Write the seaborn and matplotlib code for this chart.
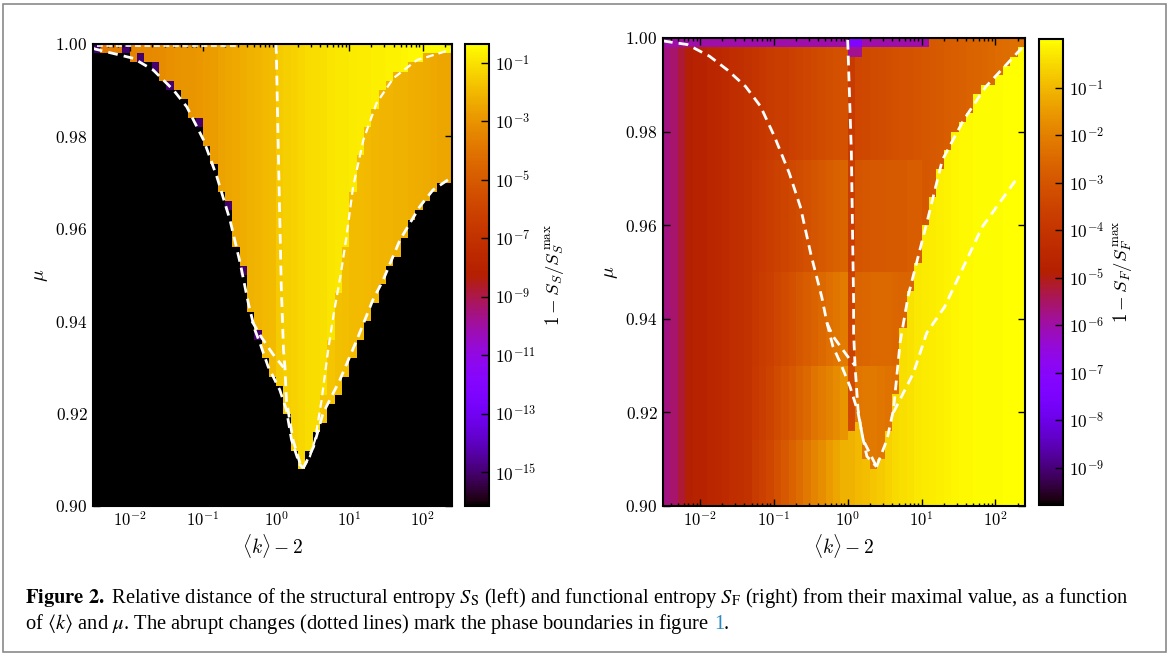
import numpy as np
import pandas as pd
import seaborn as sns
import matplotlib.pyplot as plt
from matplotlib.colors import LogNorm
from matplotlib.patches import Rectangle

plt.rcParams['mathtext.fontset'] = 'cm'
plt.rcParams['font.family'] = ['DejaVu Serif']

# ===== GRID: log10(<k>-2) columns and mu rows =====
log_k = np.round(np.arange(-2.45, 2.40, 0.1), 2)   # 49 column centres
mu = np.round(np.arange(0.901, 1.0, 0.002), 3)     # 50 row centres

# ===== LEFT PANEL (structural entropy) =====
# mu below which the cell is empty (black)
left_floor_mu = [0.9988, 0.9985, 0.9981, 0.9977, 0.9973, 0.9969, 0.9960, 0.9950,
                 0.9940, 0.9925, 0.9908, 0.9890, 0.9870, 0.9843, 0.9811, 0.9775,
                 0.9731, 0.9682, 0.9630, 0.9566, 0.9494, 0.9420, 0.9365, 0.9320,
                 0.9284, 0.9251, 0.9200, 0.9120, 0.9084, 0.9110, 0.9150, 0.9180,
                 0.9210, 0.9245, 0.9280, 0.9315, 0.9350, 0.9390, 0.9430, 0.9470,
                 0.9510, 0.9545, 0.9580, 0.9610, 0.9635, 0.9660, 0.9680, 0.9695,
                 0.9705]
# log10(1 - S_S/S_S^max) per column
left_log_value = [-4.0, -3.9, -3.8, -3.7, -3.6, -3.5, -3.4, -3.35, -3.3, -3.2,
                  -3.1, -3.05, -3.0, -2.95, -2.9, -2.8, -2.7, -2.6, -2.5, -2.4,
                  -2.3, -2.2, -2.1, -2.0, -1.9, -1.55, -1.45, -1.35, -1.25, -1.15,
                  -1.1, -1.05, -0.95, -0.9, -0.85, -0.8, -0.78, -0.75, -0.72, -0.68,
                  -0.64, -0.6, -0.55, -0.5, -0.48, -0.46, -0.45, -0.44, -0.43]
# last 20 columns: below the inner right boundary the value drops
left_inner_mu = [0.910, 0.916, 0.925, 0.936, 0.946, 0.957, 0.968, 0.977, 0.983, 0.987,
                 0.990, 0.992, 0.9935, 0.995, 0.996, 0.9967, 0.9975, 0.998, 0.9985, 0.9988]
left_outer_log_value = [-1.55, -1.6, -1.65, -1.7, -1.8, -1.85, -1.9, -1.95, -2.0, -2.05,
                        -2.1, -2.1, -2.15, -2.2, -2.25, -2.3, -2.35, -2.4, -2.45, -2.5]
# columns whose first filled cell is dark purple
left_edge_log_k = [-2.45, -2.05, -1.85, -1.65, -1.45, -1.05, -0.65, -0.45, -0.25]
left_edge_log_value = -15.0

# ===== RIGHT PANEL (functional entropy) =====
# top band (mu >= 0.975), every column
right_log_value = [-5.7, -5.55, -5.2, -4.9, -4.75, -4.7, -4.6, -4.5, -4.4, -4.3,
                   -4.2, -4.1, -4.0, -3.9, -3.8, -3.7, -3.65, -3.6, -3.5, -3.45,
                   -3.35, -3.3, -3.2, -3.15, -3.1,
                   -3.8, -3.4, -3.35, -3.3, -3.25, -3.2, -3.15, -3.1, -3.05, -3.0,
                   -2.95, -2.9, -2.85, -2.8, -2.75, -2.7, -2.65, -2.6, -2.55, -2.5,
                   -2.45, -2.4, -2.35, -2.3]
# lower bands, columns from log_k = -1.25 to 0.95
right_band_mu = [0.975, 0.95, 0.93, 0.915]
right_band_b = [-3.95, -3.83, -3.7, -3.56, -3.46, -3.36, -3.23, -3.13, -2.99, -2.9,
                -2.78, -2.69, -2.6, -3.7, -3.0, -2.95, -2.9, -2.9, -2.85, -2.85,
                -2.85, -2.8, -2.8]
right_band_c = [-3.9, -3.75, -3.6, -3.43, -3.28, -3.13, -2.95, -2.8, -2.63, -2.5,
                -2.35, -2.23, -2.1, -3.5, -2.6, -2.55, -2.5, -2.5, -2.5, -2.55,
                -2.6, -2.6, -2.6]
right_band_d = [-3.85, -3.68, -3.5, -3.29, -3.09, -2.89, -2.68, -2.48, -2.26, -2.1,
                -1.93, -1.76, -1.6, -3.3, -2.2, -2.15, -2.15, -2.2, -2.3, -2.35,
                -2.4, -2.4, -2.4]
right_band_e = [-3.8, -3.6, -3.4, -3.15, -2.9, -2.65, -2.4, -2.15, -1.9, -1.7,
                -1.5, -1.3, -1.1]
# columns from log_k = 0.05: below the V / inner right boundary
right_split_mu = [0.916, 0.919, 0.911, 0.9085, 0.911, 0.9155, 0.924, 0.938, 0.946, 0.953,
                  0.9595, 0.966, 0.972, 0.9765, 0.980, 0.9825, 0.985, 0.9875, 0.9895, 0.991,
                  0.993, 0.995, 0.997, 0.998]
right_under_v_log_value = [-1.1, -1.0, -0.9, -0.8, -0.7, -0.6, -0.5, -0.42, -0.36, -0.3,
                           -0.26, -0.22, -0.18, -0.14, -0.1, -0.08, -0.06, -0.04, -0.03,
                           -0.02, -0.01, 0.0, 0.0, 0.0]
right_top_log_value = -6.0          # top row (mu = 1)
right_top_max_log_k = 1.05
right_stripe_log_k = [0.05, 0.15]
right_stripe_top_log_value = [-7.3, -5.8]   # two top rows above the stripe

# ===== PHASE BOUNDARIES (log10(<k>-2), mu) =====
l_outer_left_x = [-2.5, -2.47, -1.95, -1.68, -1.40, -1.22, -0.99, -0.81, -0.63, -0.49,
                  -0.38, -0.29, -0.22, -0.11, 0.05, 0.14, 0.21, 0.32, 0.37]
l_outer_left_mu = [0.9991, 0.9989, 0.9969, 0.9944, 0.9900, 0.9864, 0.9792, 0.9713, 0.9619,
                   0.9525, 0.9439, 0.9381, 0.9352, 0.9302, 0.9251, 0.9208, 0.9143, 0.9090, 0.9082]
l_branch_x = [-0.33, -0.20, -0.05, 0.10]
l_branch_mu = [0.9400, 0.9365, 0.9330, 0.9300]
l_vert_x = [0.0, 0.03, 0.07, 0.10, 0.12, 0.14, 0.23, 0.33, 0.37]
l_vert_mu = [1.0, 0.9763, 0.9475, 0.9338, 0.9300, 0.9229, 0.9143, 0.9090, 0.9082]
l_inner_right_x = [0.37, 0.46, 0.53, 0.62, 0.71, 0.79, 0.88, 0.96, 1.05, 1.19, 1.37, 1.60,
                   1.92, 2.37, 2.40]
l_inner_right_mu = [0.9082, 0.9107, 0.9143, 0.9229, 0.9338, 0.9420, 0.9500, 0.9583, 0.9691,
                    0.9792, 0.9872, 0.9926, 0.9965, 0.9987, 0.9988]
l_outer_right_x = [0.37, 0.51, 0.64, 0.87, 1.10, 1.32, 1.46, 1.69, 1.96, 2.14, 2.40]
l_outer_right_mu = [0.9082, 0.9128, 0.9201, 0.9273, 0.9359, 0.9446, 0.9489, 0.9576, 0.9648,
                    0.9684, 0.9712]
l_top_x = [-2.45, -0.55]
l_top_mu = [0.9995, 0.9995]

r_outer_left_x = [-2.5, -2.47, -2.17, -1.87, -1.63, -1.38, -1.18, -0.99, -0.79, -0.64,
                  -0.50, -0.35, -0.28, -0.20, -0.10, 0.03, 0.14, 0.21, 0.39]
r_outer_left_mu = [0.9994, 0.9993, 0.9986, 0.9961, 0.9932, 0.9896, 0.9854, 0.9789, 0.9711,
                   0.9639, 0.9539, 0.9446, 0.9391, 0.9341, 0.9306, 0.9256, 0.9200, 0.9141, 0.9084]
r_branch_x = [-0.28, -0.20, 0.03, 0.10]
r_branch_mu = [0.9391, 0.9363, 0.9313, 0.9300]
r_vert_x = [0.0, 0.05, 0.07, 0.08, 0.08, 0.10, 0.14, 0.19, 0.26, 0.39]
r_vert_mu = [0.9996, 0.9754, 0.9540, 0.9440, 0.9370, 0.9298, 0.9206, 0.9156, 0.9106, 0.9084]
r_inner_right_x = [0.39, 0.53, 0.62, 0.71, 0.82, 1.08, 1.28, 1.57, 1.87, 2.40]
r_inner_right_mu = [0.9084, 0.9141, 0.9206, 0.9350, 0.9450, 0.9611, 0.9739, 0.9825, 0.9896, 0.9986]
r_outer_right_x = [0.62, 0.89, 1.07, 1.31, 1.82, 2.31]
r_outer_right_mu = [0.9200, 0.9284, 0.9370, 0.9425, 0.9596, 0.9704]

EMPTY = 1e-30

# ===== BUILD FIELDS =====
nx, ny = len(log_k), len(mu)

Z_left = np.full((ny, nx), EMPTY)
off_inner = nx - len(left_inner_mu)
for j in range(nx):
    filled = np.where(mu > left_floor_mu[j])[0]
    for i in filled:
        Z_left[i, j] = 10 ** left_log_value[j]
        k = j - off_inner
        if k >= 0 and mu[i] < left_inner_mu[k]:
            Z_left[i, j] = 10 ** left_outer_log_value[k]
    if log_k[j] in left_edge_log_k and len(filled):
        Z_left[filled[0], j] = 10 ** left_edge_log_value

Z_right = np.zeros((ny, nx))
off_band = int(np.argmin(np.abs(log_k - (-1.25))))
off_split = nx - len(right_split_mu)
bands = [right_band_b, right_band_c, right_band_d, right_band_e]
for j in range(nx):
    for i in range(ny):
        v = right_log_value[j]
        b = j - off_band
        for lim, vals in zip(right_band_mu, bands):
            if 0 <= b < len(vals) and mu[i] < lim:
                v = vals[b]
        k = j - off_split
        if k >= 0 and mu[i] < right_split_mu[k]:
            v = right_under_v_log_value[k]
        Z_right[i, j] = 10 ** v
    if log_k[j] <= right_top_max_log_k:
        Z_right[-1, j] = 10 ** right_top_log_value
    if log_k[j] in right_stripe_log_k:
        Z_right[-1, j] = 10 ** right_stripe_top_log_value[0]
        Z_right[-2, j] = 10 ** right_stripe_top_log_value[1]

# ===== FIGURE =====
W, H = 1170, 655
fig = plt.figure(figsize=(W / 100, H / 100), dpi=100)
ax1 = fig.add_axes([93 / W, 1 - 506 / H, 359 / W, 462 / H])
cax1 = fig.add_axes([465 / W, 1 - 506 / H, 24 / W, 462 / H])
ax2 = fig.add_axes([663 / W, 1 - 506 / H, 362 / W, 468 / H])
cax2 = fig.add_axes([1039 / W, 1 - 505 / H, 24 / W, 466 / H])


def hx(v):
    return (np.asarray(v) + 2.5) / 0.1


def hy(m):
    return (1.0 - np.asarray(m)) / 0.002


def draw_panel(ax, cax, Z, vmin, vmax, cticks, clabel):
    df = pd.DataFrame(Z[::-1], index=mu[::-1], columns=log_k)
    sns.heatmap(df, ax=ax, cbar_ax=cax, cmap='gnuplot',
                norm=LogNorm(vmin=vmin, vmax=vmax),
                xticklabels=False, yticklabels=False)
    ax.set_facecolor('black')
    ax.set_xlim(0, nx)
    ax.set_ylim(ny, 0)
    for s in ax.spines.values():
        s.set_visible(True)
        s.set_linewidth(1.5)
        s.set_color('black')
    major = [-2, -1, 0, 1, 2]
    ax.set_xticks(hx(major))
    ax.set_xticklabels([rf'$10^{{{d}}}$' for d in major], fontsize=12)
    minor = [np.log10(m) + d for d in range(-3, 3) for m in range(2, 10)
             if -2.5 < np.log10(m) + d < 2.4]
    ax.set_xticks(hx(minor), minor=True)
    yt = [0.90, 0.92, 0.94, 0.96, 0.98, 1.00]
    ax.set_yticks(hy(yt))
    ax.set_yticklabels([rf'${v:.2f}$' for v in yt], fontsize=12.5, rotation=0)
    ax.tick_params(which='both', direction='in', top=True, right=True,
                   color='black', width=1)
    ax.tick_params(which='major', length=5, pad=4)
    ax.tick_params(which='minor', length=2.5)
    ax.set_xlabel(r'$\langle k\rangle - 2$', fontsize=14, labelpad=1)
    ax.set_ylabel(r'$\mu$', fontsize=14, labelpad=4)

    cb = ax.collections[0].colorbar
    cb.outline.set_linewidth(1.5)
    cb.outline.set_edgecolor('black')
    cb.set_ticks([10.0 ** t for t in cticks],
                 labels=[rf'$10^{{{t}}}$' for t in cticks])
    cb.minorticks_off()
    cb.ax.tick_params(direction='in', length=6, width=1, labelsize=12.5,
                      right=True, left=False, pad=4)
    cb.set_label(clabel, fontsize=13.5, labelpad=5)


def dashed(ax, xs, ms, lw=2.0):
    ax.plot(hx(xs), hy(ms), color='white', lw=lw, ls=(0, (3.5, 2.2)),
            dash_capstyle='butt')


draw_panel(ax1, cax1, Z_left, 10 ** -16.16, 10 ** -0.35,
           [-1, -3, -5, -7, -9, -11, -13, -15],
           r'$1 - S_S/S_S^{\,\mathrm{max}}$')
dashed(ax1, l_outer_left_x, l_outer_left_mu)
dashed(ax1, l_branch_x, l_branch_mu)
dashed(ax1, l_vert_x, l_vert_mu)
dashed(ax1, l_inner_right_x, l_inner_right_mu, lw=1.6)
dashed(ax1, l_outer_right_x, l_outer_right_mu)
dashed(ax1, l_top_x, l_top_mu, lw=1.2)

draw_panel(ax2, cax2, Z_right, 10 ** -9.78, 10 ** 0.03,
           [-1, -2, -3, -4, -5, -6, -7, -8, -9],
           r'$1 - S_F/S_F^{\,\mathrm{max}}$')
dashed(ax2, r_outer_left_x, r_outer_left_mu)
dashed(ax2, r_branch_x, r_branch_mu)
dashed(ax2, r_vert_x, r_vert_mu)
dashed(ax2, r_inner_right_x, r_inner_right_mu)
dashed(ax2, r_outer_right_x, r_outer_right_mu)

# ===== CAPTION =====
cap_kw = dict(fontsize=12, family='Liberation Serif', math_fontfamily='stix',
              va='baseline', ha='left')
t1 = fig.text(25 / W, 1 - 603 / H,
              r'$\mathbf{Figure\ 2.}$ Relative distance of the structural entropy $S_{\rm S}$ '
              r'(left) and functional entropy $S_{\rm F}$ (right) from their maximal value, '
              r'as a function', **cap_kw)
fig.canvas.draw()
size = 12 * 1100 / t1.get_window_extent().width
cap_kw['fontsize'] = size
t1.set_fontsize(size)
t2 = fig.text(25 / W, 1 - 629 / H,
              r'of $\langle k\rangle$ and $\mu$. The abrupt changes (dotted lines) mark '
              r'the phase boundaries in figure', **cap_kw)
fig.canvas.draw()
space = 0.25 * size * 100 / 72
bb = t2.get_window_extent()
t3 = fig.text((bb.x1 + space) / W, 1 - 629 / H, '1', color='#2a8ac0', **cap_kw)
fig.canvas.draw()
bb3 = t3.get_window_extent()
fig.text(bb3.x1 / W, 1 - 629 / H, '.', **cap_kw)

fig.add_artist(Rectangle((3 / W, 3 / H), 1163 / W, 648 / H, transform=fig.transFigure,
                         fill=False, edgecolor='#8a8a8a', lw=1.2))

fig.savefig('out.png', dpi=100)
